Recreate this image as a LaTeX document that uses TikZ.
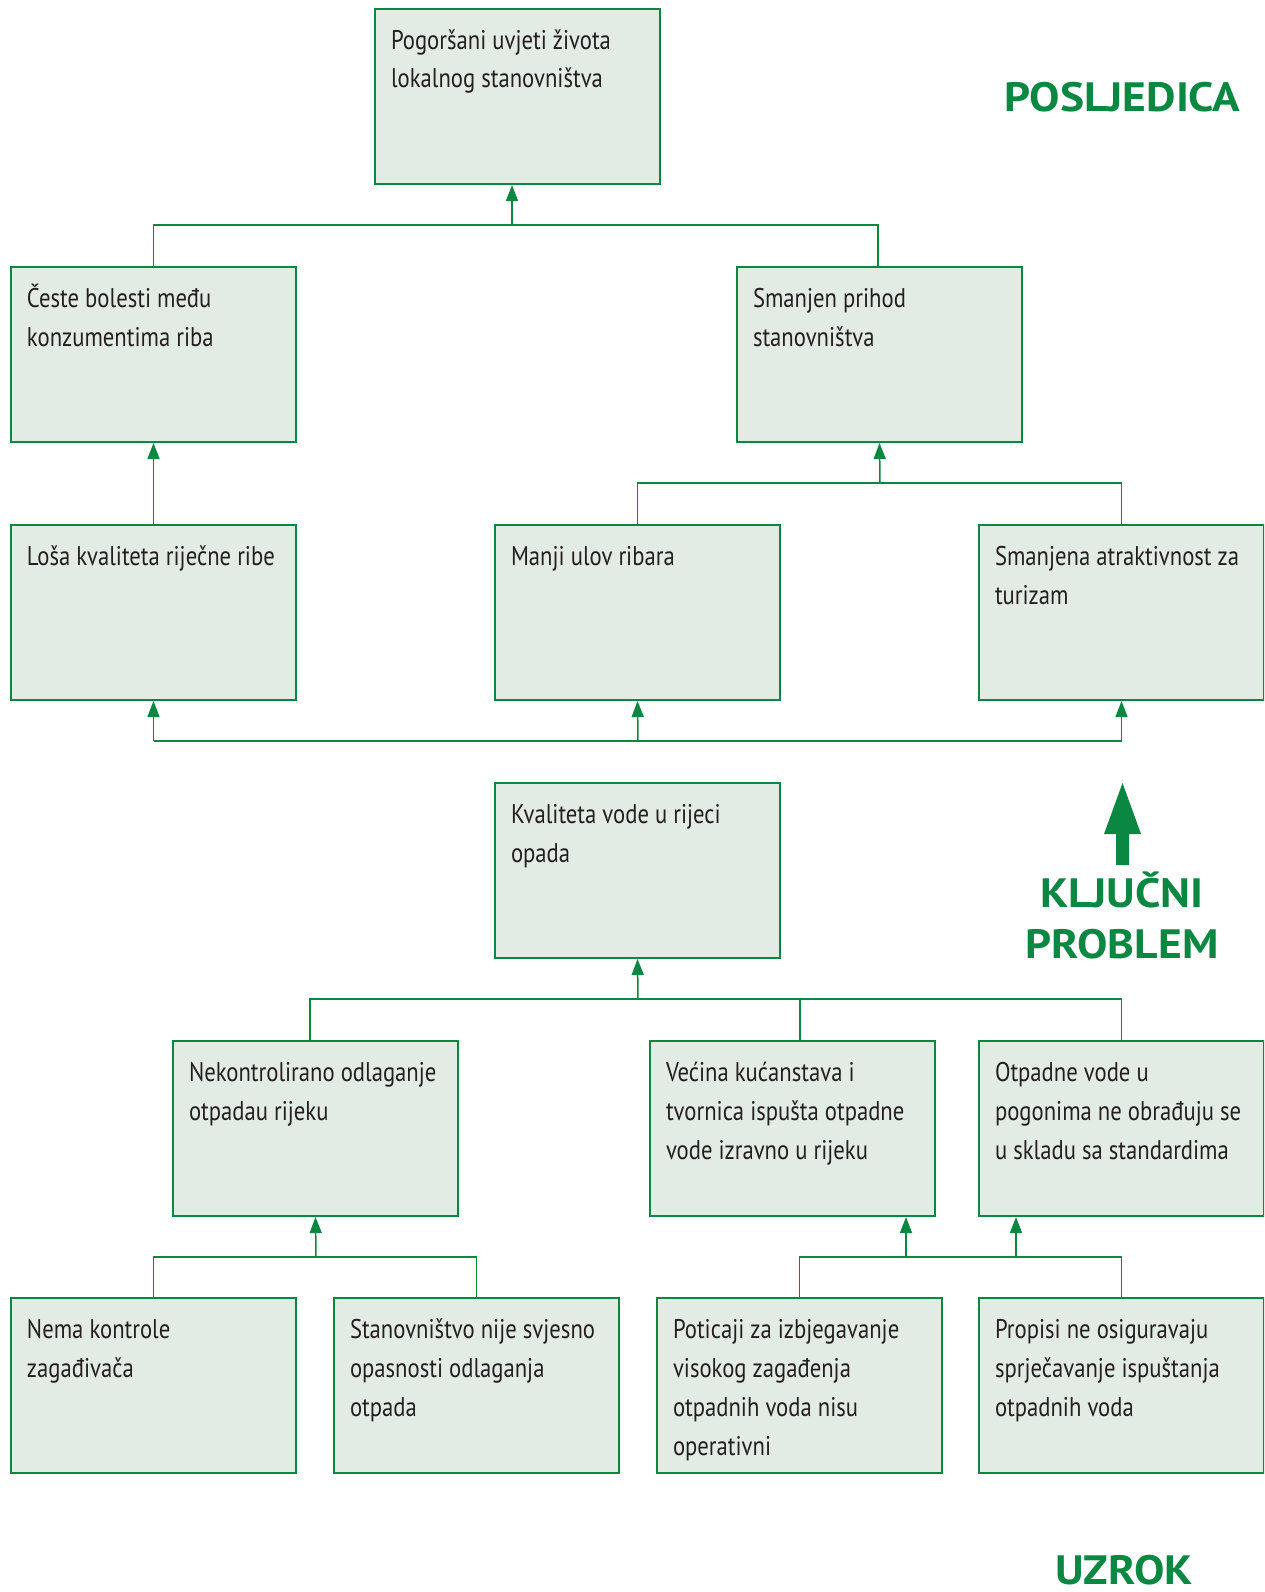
\documentclass[tikz,border=0pt]{standalone}
\usepackage{fontspec}
\setmainfont{PT Sans}[FakeStretch=0.84]
\newfontfamily\headfont{PT Sans}[FakeStretch=1.11]
\usetikzlibrary{arrows.meta}

\definecolor{lineGreen}{RGB}{10,135,65}
\definecolor{boxFill}{RGB}{226,236,228}
\definecolor{inkGray}{RGB}{35,31,32}

% fixed-size box body: text set from the top-left corner
\newcommand\boxbody[1]{\parbox[c][175pt][t]{253pt}{#1}}
\newcommand\firstln[1]{\hbox to \hsize{\rule{0pt}{40pt}#1\hss}}
\newcommand\nextln[1]{\hbox to \hsize{#1\hss}}

\begin{document}
\begin{tikzpicture}[x=1pt,y=-1pt,
  cause/.style={draw=lineGreen, fill=boxFill, line width=1.5pt,
    anchor=north west, inner xsep=16pt, inner ysep=0pt, outer sep=0pt,
    text=inkGray, font=\fontsize{27}{39}\selectfont},
  link/.style={draw=lineGreen, line width=1.5pt},
  uparrow/.style={link, -{Triangle[length=16pt,width=12pt]}, shorten >=1pt},
  heading/.style={text=lineGreen, font=\headfont\bfseries\fontsize{41}{51}\selectfont,
    inner sep=0pt, align=center}]

\useasboundingbox (0,0) rectangle (1264,1592);
\begin{scope}
\clip (0,0) rectangle (1264,1592);

% row 1
\node[cause] (top) at (375,9) {\boxbody{\firstln{Pogoršani uvjeti života}\nextln{lokalnog stanovništva}}};
% row 2
\node[cause] (bolesti) at (11,267) {\boxbody{\firstln{Česte bolesti među}\nextln{konzumentima riba}}};
\node[cause] (prihod) at (737,267) {\boxbody{\firstln{Smanjen prihod}\nextln{stanovništva}}};
% row 3
\node[cause] (losa) at (11,525) {\boxbody{\firstln{Loša kvaliteta riječne ribe}}};
\node[cause] (ulov) at (495,525) {\boxbody{\firstln{Manji ulov ribara}}};
\node[cause] (turizam) at (979,525) {\boxbody{\firstln{Smanjena atraktivnost za}\nextln{turizam}}};
% key problem
\node[cause] (kval) at (495,783) {\boxbody{\firstln{Kvaliteta vode u rijeci}\nextln{opada}}};
% row 5
\node[cause] (nekon) at (173,1041) {\boxbody{\firstln{Nekontrolirano odlaganje}\nextln{otpadau rijeku}}};
\node[cause] (vecina) at (650,1041) {\boxbody{\firstln{Većina kućanstava i}\nextln{tvornica ispušta otpadne}\nextln{vode izravno u rijeku}}};
\node[cause] (otpadne) at (979,1041) {\boxbody{\firstln{Otpadne vode u}\nextln{pogonima ne obrađuju se}\nextln{u skladu sa standardima}}};
% row 6
\node[cause] (nema) at (11,1298) {\boxbody{\firstln{Nema kontrole}\nextln{zagađivača}}};
\node[cause] (svjesno) at (334,1298) {\boxbody{\firstln{Stanovništvo nije svjesno}\nextln{opasnosti odlaganja}\nextln{otpada}}};
\node[cause] (poticaji) at (657,1298) {\boxbody{\firstln{Poticaji za izbjegavanje}\nextln{visokog zagađenja}\nextln{otpadnih voda nisu}\nextln{operativni}}};
\node[cause] (propisi) at (979,1298) {\boxbody{\firstln{Propisi ne osiguravaju}\nextln{sprječavanje ispuštanja}\nextln{otpadnih voda}}};
\end{scope}

% junction points of the connector bars
\coordinate (barA) at (512,225);
\coordinate (barB) at (880,483);
\coordinate (barC) at (638,741);
\coordinate (barD) at (638,999);
\coordinate (barE) at (316,1257);
\coordinate (barF) at (906,1257);
\coordinate (barG) at (1016,1257);

% consequences -> top
\draw[link] (bolesti.north) |- (barA) -| (prihod.north -| 878,0);
\draw[uparrow] (barA) -- (barA |- top.south);
% fish quality -> diseases
\draw[uparrow] (losa.north) -- (bolesti.south);
% catch and tourism -> income
\draw[link] (ulov.north) |- (barB) -| (turizam.north);
\draw[uparrow] (barB) -- (prihod.south);
% bar under row 3
\draw[link] (losa.south |- barC) -- (turizam.south |- barC);
\draw[uparrow] (losa.south |- barC) -- (losa.south);
\draw[uparrow] (barC) -- (ulov.south);
\draw[uparrow] (turizam.south |- barC) -- (turizam.south);
% causes -> key problem
\draw[link] (nekon.north -| 310,0) |- (barD) -| (otpadne.north);
\draw[link] (barD -| 800,0) -- (vecina.north -| 800,0);
\draw[uparrow] (barD) -- (kval.south);
% root causes -> dumping
\draw[link] (nema.north) |- (barE) -| (svjesno.north);
\draw[uparrow] (barE) -- (nekon.south);
% root causes -> waste water
\draw[link] (poticaji.north) |- (barF) -- (barG) -| (propisi.north);
\draw[uparrow] (barF) -- (barF |- vecina.south);
\draw[uparrow] (barG) -- (barG |- otpadne.south);

% big arrow and section headings
\fill[lineGreen] (1116,865) -- (1116,834) -- (1104,834) -- (1122.5,783)
  -- (1141,834) -- (1129,834) -- (1129,865) -- cycle;
\node[heading, anchor=base] (posljedica) at (1122,112) {POSLJEDICA};
\node[heading, anchor=base] (kljucni) at (1122,907) {KLJUČNI};
\node[heading, anchor=base] (problem) at (1122,958) {PROBLEM};
\node[heading, anchor=base] (uzrok) at (1124,1584) {UZROK};
\end{tikzpicture}
\end{document}
